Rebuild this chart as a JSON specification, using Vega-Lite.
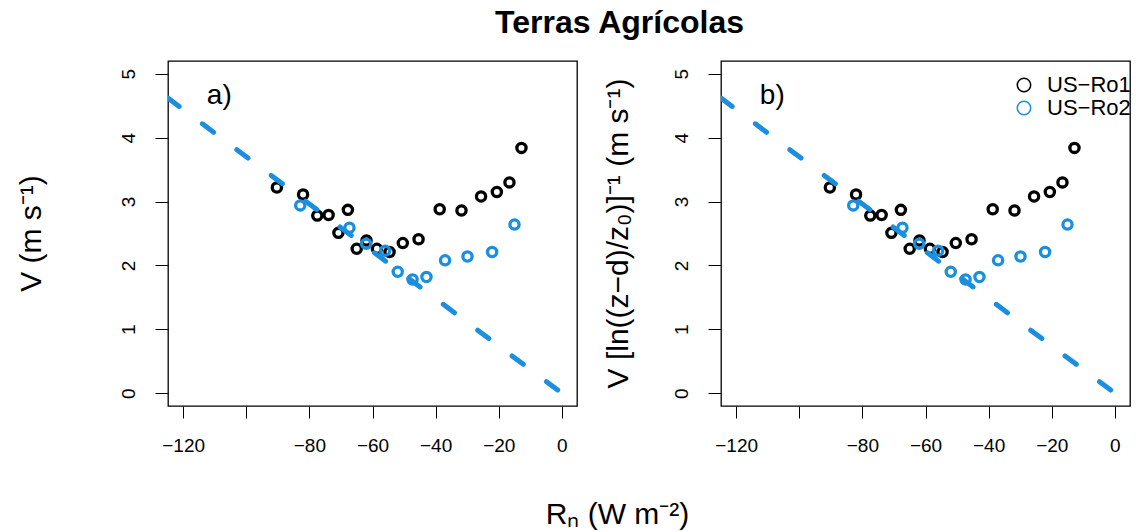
{
  "$schema": "https://vega.github.io/schema/vega-lite/v6.json",
  "autosize": {"type": "pad"},
  "padding": {"left": 15, "top": 7, "right": 0, "bottom": 0},
  "background": "white",
  "title": {
    "text": "Terras Agrícolas",
    "fontSize": 32,
    "fontWeight": "bold",
    "font": "Liberation Sans",
    "color": "black",
    "anchor": "middle",
    "offset": 20,
    "dx": 46
  },
  "config": {
    "view": {"stroke": "black", "strokeWidth": 1.3},
    "axis": {
      "grid": false,
      "domain": false,
      "tickColor": "black",
      "tickWidth": 1,
      "labelFont": "Liberation Sans",
      "labelFontSize": 19,
      "labelColor": "black",
      "titleFont": "Liberation Sans",
      "titleFontWeight": "normal",
      "titleFontSize": 30,
      "titleColor": "black"
    },
    "legend": {"labelFont": "Liberation Sans", "labelFontSize": 22, "labelColor": "black"}
  },
  "datasets": {
    "pts": [
      {"site": "US-Ro1", "Rn": -90.3, "V": 3.22},
      {"site": "US-Ro1", "Rn": -82.0, "V": 3.11},
      {"site": "US-Ro1", "Rn": -77.5, "V": 2.78},
      {"site": "US-Ro1", "Rn": -73.9, "V": 2.79},
      {"site": "US-Ro1", "Rn": -70.8, "V": 2.51},
      {"site": "US-Ro1", "Rn": -67.8, "V": 2.87},
      {"site": "US-Ro1", "Rn": -65.0, "V": 2.26},
      {"site": "US-Ro1", "Rn": -61.9, "V": 2.39},
      {"site": "US-Ro1", "Rn": -58.6, "V": 2.26},
      {"site": "US-Ro1", "Rn": -54.6, "V": 2.21},
      {"site": "US-Ro1", "Rn": -50.4, "V": 2.35},
      {"site": "US-Ro1", "Rn": -45.4, "V": 2.41},
      {"site": "US-Ro1", "Rn": -38.7, "V": 2.88},
      {"site": "US-Ro1", "Rn": -31.8, "V": 2.86},
      {"site": "US-Ro1", "Rn": -25.6, "V": 3.08},
      {"site": "US-Ro1", "Rn": -20.6, "V": 3.15},
      {"site": "US-Ro1", "Rn": -16.6, "V": 3.30},
      {"site": "US-Ro1", "Rn": -12.8, "V": 3.84},
      {"site": "US-Ro2", "Rn": -82.9, "V": 2.94},
      {"site": "US-Ro2", "Rn": -67.3, "V": 2.59},
      {"site": "US-Ro2", "Rn": -62.0, "V": 2.34},
      {"site": "US-Ro2", "Rn": -56.0, "V": 2.23},
      {"site": "US-Ro2", "Rn": -52.0, "V": 1.90},
      {"site": "US-Ro2", "Rn": -47.3, "V": 1.78},
      {"site": "US-Ro2", "Rn": -42.9, "V": 1.82},
      {"site": "US-Ro2", "Rn": -37.0, "V": 2.08},
      {"site": "US-Ro2", "Rn": -29.9, "V": 2.14},
      {"site": "US-Ro2", "Rn": -22.1, "V": 2.21},
      {"site": "US-Ro2", "Rn": -15.0, "V": 2.64}
    ],
    "fit": [
      {"Rn": -124.8, "V": 4.62},
      {"Rn": 0, "V": 0}
    ]
  },
  "bounds": "flush",
  "spacing": 144,
  "resolve": {"legend": {"color": "independent"}},
  "hconcat": [
    {
      "width": 409,
      "height": 345,
      "layer": [
        {
          "data": {"name": "pts"},
          "mark": {"type": "point", "shape": "circle", "filled": false, "strokeWidth": 3.3, "size": 85, "opacity": 1},
          "encoding": {
            "x": {"field": "Rn", "type": "quantitative", "scale": {"domain": [-124.8, 4.8], "nice": false, "zero": false},
              "axis": {"values": [-120, -100, -80, -60, -40, -20, 0], "tickSize": 12, "labelPadding": 18,
                "labelExpr": "datum.value == -100 ? '' : datum.label",
                "title": "Rₙ (W m⁻²)", "titleX": 449, "titleY": 117, "titleBaseline": "alphabetic", "titleAlign": "center"}},
            "y": {"field": "V", "type": "quantitative", "scale": {"domain": [-0.2, 5.2], "nice": false, "zero": false},
              "axis": {"values": [0, 1, 2, 3, 4, 5], "format": "d", "tickSize": 13, "labelAngle": -90, "labelAlign": "center", "labelBaseline": "bottom", "labelPadding": 17,
                "title": "V (m s⁻¹)", "titleX": -137, "titleY": 172, "titleAngle": -90, "titleBaseline": "middle", "titleAlign": "center"}},
            "color": {"field": "site", "type": "nominal", "scale": {"domain": ["US-Ro1", "US-Ro2"], "range": ["black", "#1a8fe0"]}, "legend": null},
            "order": {"field": "site", "type": "nominal"}
          }
        },
        {
          "data": {"name": "fit"},
          "mark": {"type": "line", "color": "#1a8fe0", "strokeWidth": 5, "strokeDash": [14, 29], "strokeCap": "round", "clip": true},
          "encoding": {
            "x": {"field": "Rn", "type": "quantitative"},
            "y": {"field": "V", "type": "quantitative"}
          }
        },
        {
          "data": {"values": [{"panel": "a)"}]},
          "mark": {"type": "text", "fontSize": 28, "font": "Liberation Sans", "align": "left", "baseline": "middle", "color": "black"},
          "encoding": {
            "x": {"datum": -112.5},
            "y": {"datum": 4.65},
            "text": {"field": "panel"}
          }
        }
      ]
    },
    {
      "width": 409,
      "height": 345,
      "layer": [
        {
          "data": {"name": "pts"},
          "mark": {"type": "point", "shape": "circle", "filled": false, "strokeWidth": 3.3, "size": 85, "opacity": 1},
          "encoding": {
            "x": {"field": "Rn", "type": "quantitative", "scale": {"domain": [-124.8, 4.8], "nice": false, "zero": false},
              "axis": {"values": [-120, -100, -80, -60, -40, -20, 0], "tickSize": 12, "labelPadding": 18,
                "labelExpr": "datum.value == -100 ? '' : datum.label", "title": null}},
            "y": {"field": "V", "type": "quantitative", "scale": {"domain": [-0.2, 5.2], "nice": false, "zero": false},
              "axis": {"values": [0, 1, 2, 3, 4, 5], "format": "d", "tickSize": 13, "labelAngle": -90, "labelAlign": "center", "labelBaseline": "bottom", "labelPadding": 17,
                "title": "V [ln((z−d)/z₀)]⁻¹   (m s⁻¹)", "titleX": -103, "titleY": 172, "titleAngle": -90, "titleBaseline": "middle", "titleAlign": "center"}},
            "color": {"field": "site", "type": "nominal", "scale": {"domain": ["US-Ro1", "US-Ro2"], "range": ["black", "#1a8fe0"]},
              "legend": {"title": null, "orient": "none", "legendX": 292, "legendY": 13, "padding": 0, "symbolType": "circle", "symbolSize": 180, "symbolStrokeWidth": 1.5, "symbolFillColor": "transparent", "rowPadding": 1, "labelOffset": 12,
                "labelExpr": "replace(datum.label, '-', '−')"}},
            "order": {"field": "site", "type": "nominal"}
          }
        },
        {
          "data": {"name": "fit"},
          "mark": {"type": "line", "color": "#1a8fe0", "strokeWidth": 5, "strokeDash": [14, 29], "strokeCap": "round", "clip": true},
          "encoding": {
            "x": {"field": "Rn", "type": "quantitative"},
            "y": {"field": "V", "type": "quantitative"}
          }
        },
        {
          "data": {"values": [{"panel": "b)"}]},
          "mark": {"type": "text", "fontSize": 28, "font": "Liberation Sans", "align": "left", "baseline": "middle", "color": "black"},
          "encoding": {
            "x": {"datum": -112.5},
            "y": {"datum": 4.65},
            "text": {"field": "panel"}
          }
        }
      ]
    }
  ]
}
